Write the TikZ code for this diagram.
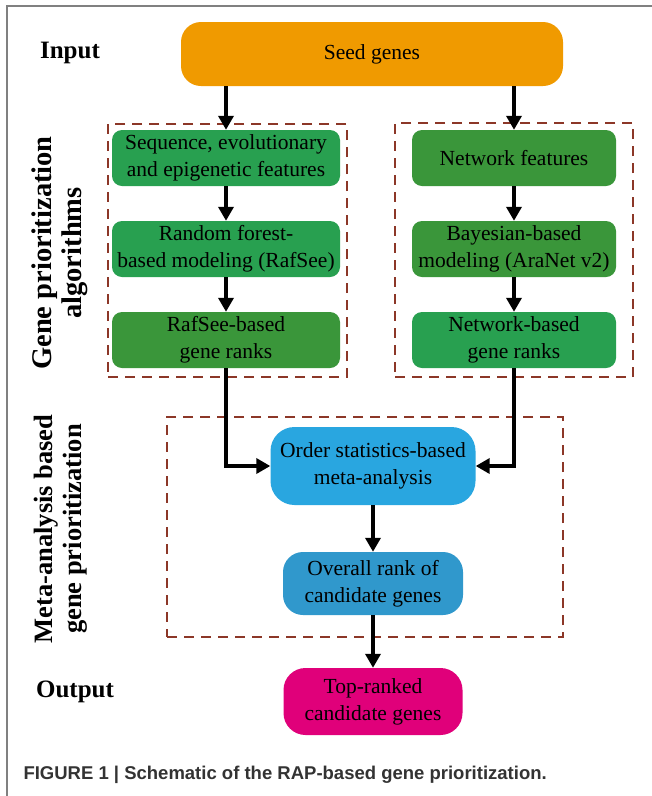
\documentclass[tikz,border=0pt]{standalone}
\usepackage{fontspec}
\setmainfont{Liberation Serif}
\newfontfamily\capfont{Liberation Sans}
\usetikzlibrary{arrows.meta, positioning, shapes}

\definecolor{seedorange}{RGB}{240,154,0}
\definecolor{featgreen}{RGB}{40,160,80}
\definecolor{rankgreen}{RGB}{58,150,58}
\definecolor{metablue}{RGB}{41,166,224}
\definecolor{overallblue}{RGB}{48,152,204}
\definecolor{topmagenta}{RGB}{224,0,122}
\definecolor{groupred}{RGB}{140,55,40}

\tikzstyle{box} = [rectangle, rounded corners=10pt, align=center, inner xsep=2pt, text=black, font=\fontsize{21.5}{27}\selectfont]
\tikzstyle{greenA} = [box, fill=featgreen, minimum width=228pt, minimum height=56pt]
\tikzstyle{greenB} = [box, fill=rankgreen, minimum width=228pt, minimum height=56pt]
\tikzstyle{group} = [draw=groupred, line width=2pt, dash pattern=on 10pt off 7pt, minimum width=0pt, minimum height=0pt, inner sep=0pt]
\tikzstyle{label} = [align=center, font=\fontsize{25}{27}\selectfont\bfseries]
\tikzstyle{arrow} = [line width=4pt, -{Triangle[length=14pt,width=15pt]}]

\begin{document}
\begin{tikzpicture}[x=1pt, y=-1pt]
\useasboundingbox[fill=white] (0,0) rectangle (652,796);
\draw[gray, line width=1.5pt] (7,796) -- (7,6) -- (652,6);

% input
\node[label] (input) at (70,53) {Input};
\node[box, fill=seedorange, rounded corners=20pt, minimum width=382pt, minimum height=64pt] (seed) at (372,54) {Seed genes};

% gene prioritization algorithms
\node[label, rotate=90, font=\fontsize{28.5}{30}\selectfont\bfseries] (algolabel) at (60,253) {Gene prioritization\\algorithms};
\node[group, minimum width=239pt, minimum height=253pt] (groupL) at (227.5,250.5) {};
\node[group, minimum width=238pt, minimum height=254pt] (groupR) at (514,250) {};

\node[greenA] (feat1) at (226,158) {Sequence, evolutionary\\and epigenetic features};
\node[greenA] (model1) at (226,249) {Random forest-\\based modeling (RafSee)};
\node[greenB] (rank1) at (226,340) {RafSee-based\\gene ranks};

\node[greenB, minimum width=204pt] (net1) at (514,158) {Network features};
\node[greenB, minimum width=204pt] (model2) at (514,249) {Bayesian-based\\modeling (AraNet v2)};
\node[greenA, minimum width=204pt] (rank2) at (514,340) {Network-based\\gene ranks};

% meta-analysis
\node[label, rotate=90, font=\fontsize{26.5}{29}\selectfont\bfseries] (metalabel) at (61,529) {Meta-analysis based\\gene prioritization};
\node[group, minimum width=396pt, minimum height=220pt] (groupM) at (365,527) {};
\node[box, fill=metablue, rounded corners=24pt, minimum width=205pt, minimum height=78pt] (order) at (373,466) {Order statistics-based\\meta-analysis};
\node[box, fill=overallblue, rounded corners=20pt, minimum width=180pt, minimum height=63pt] (overall) at (373,583.5) {Overall rank of\\candidate genes};

% output
\node[label] (output) at (75,692) {Output};
\node[box, fill=topmagenta, rounded corners=22pt, minimum width=179pt, minimum height=67pt] (top) at (373,701.5) {Top-ranked\\candidate genes};

\node[anchor=west, text=black!80, font=\capfont\bfseries\fontsize{18.5}{22}\selectfont] (caption) at (20,775) {FIGURE 1 | Schematic of the RAP-based gene prioritization.};

\draw[arrow] (seed.south -| feat1.north) -- (feat1.north);
\draw[arrow] (seed.south -| net1.north) -- (net1.north);
\draw[arrow] (feat1) -- (model1);
\draw[arrow] (model1) -- (rank1);
\draw[arrow] (net1) -- (model2);
\draw[arrow] (model2) -- (rank2);
\draw[arrow] (rank1.south) |- (order.west);
\draw[arrow] (rank2.south) |- (order.east);
\draw[arrow] (order) -- (overall);
\draw[arrow] (overall) -- (top);

\end{tikzpicture}
\end{document}
